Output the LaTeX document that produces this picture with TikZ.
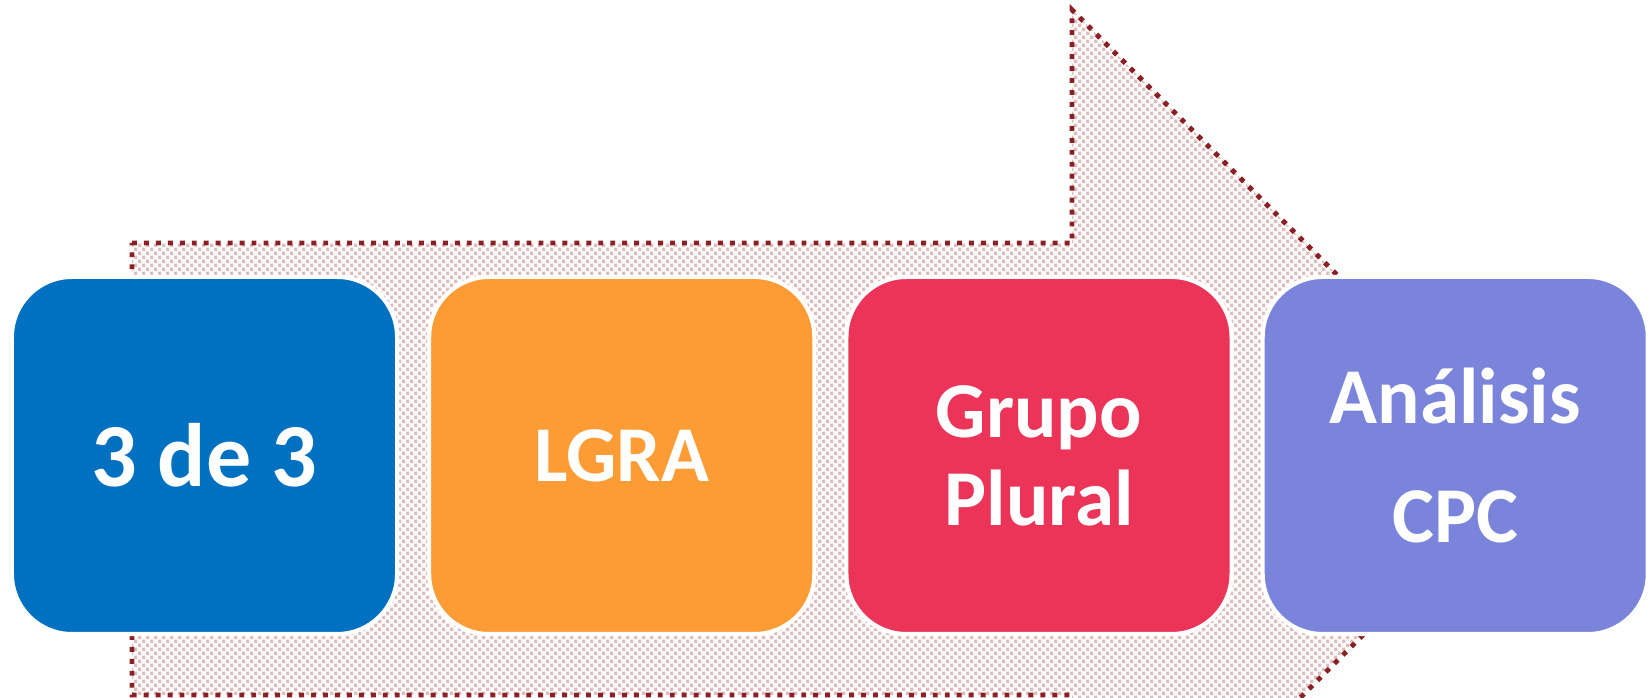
\documentclass[tikz,border=0pt]{standalone}
\usepackage{fontspec}
\setmainfont{Carlito}
\usetikzlibrary{positioning,patterns}

\definecolor{boxblue}{HTML}{0070C0}
\definecolor{boxorange}{HTML}{FD9B35}
\definecolor{boxred}{HTML}{EC3358}
\definecolor{boxviolet}{HTML}{7A84DA}
\definecolor{dotred}{HTML}{8B2024}
\definecolor{patpink}{HTML}{DDBDBE}

\pgfdeclarepatternformonly{smallchecks}{\pgfqpoint{0pt}{0pt}}{\pgfqpoint{2.4pt}{2.4pt}}{\pgfqpoint{2.4pt}{2.4pt}}{%
	\pgfpathrectangle{\pgfqpoint{0pt}{0pt}}{\pgfqpoint{1pt}{1pt}}%
	\pgfpathrectangle{\pgfqpoint{1.2pt}{1.2pt}}{\pgfqpoint{1pt}{1pt}}%
	\pgfusepath{fill}}

\begin{document}
\begin{tikzpicture}[x=0.01cm, y=-0.01cm,
		arrowline/.style={draw=dotred, line width=1.4pt, dash pattern=on 1.4pt off 2pt, pattern=smallchecks, pattern color=patpink},
		card/.style={rectangle, rounded corners=0.6cm, draw=white, line width=1.2pt, minimum width=3.85cm, minimum height=3.57cm, inner sep=0pt, outer sep=0pt, text=white, align=center, font=\bfseries\fontsize{22.5}{25}\selectfont}]
		\useasboundingbox (0,0) rectangle (1648,698);
		
		\begin{scope}
		\clip (0,0) rectangle (1648,698);
		% Draw dotted arrow
		\draw[arrowline] (132,243) -- (1072,243) -- (1072,10) -- (1530,468) -- (1072,926) -- (1072,695) -- (132,695) -- cycle;
		\end{scope}
		
		% Draw boxes
		\node[card, fill=boxblue, font=\bfseries\fontsize{25.6}{28}\selectfont] (tres) at (204.5,455.5) {3 de 3};
		\node[card, fill=boxorange, right=0.32cm of tres] (lgra) {LGRA};
		\node[card, fill=boxred, right=0.32cm of lgra] (grupo) {Grupo\\Plural};
		\node[card, fill=boxviolet, right=0.31cm of grupo, font=\bfseries\fontsize{22.5}{34}\selectfont] (analisis) {Análisis\\CPC};
		\end{tikzpicture}
\end{document}
